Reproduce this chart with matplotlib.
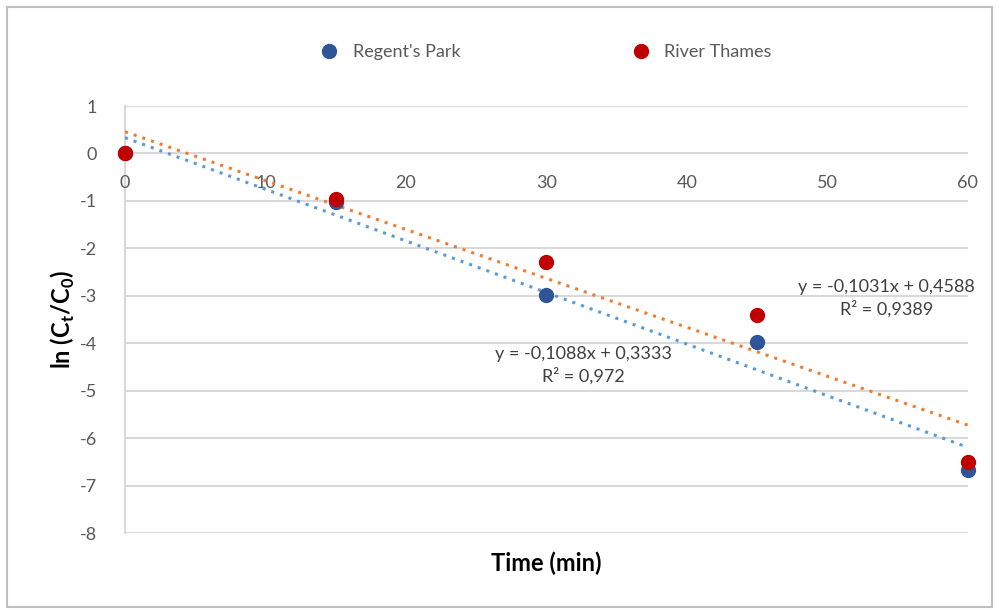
import matplotlib
matplotlib.use("Agg")
import matplotlib.pyplot as plt
import numpy as np
from matplotlib.lines import Line2D
from matplotlib.patches import Rectangle

plt.rcParams['font.family'] = ['Lato', 'DejaVu Sans']

time_min = [0, 15, 30, 45, 60]
regents_park = [0.0, -1.02, -2.98, -3.98, -6.68]
river_thames = [0.0, -0.95, -2.29, -3.41, -6.50]

# trendline coefficients as printed on the chart
rp_slope, rp_intercept = -0.1088, 0.3333
rt_slope, rt_intercept = -0.1031, 0.4588
rp_eq = "y = -0,1088x + 0,3333\nR² = 0,972"
rt_eq = "y = -0,1031x + 0,4588\nR² = 0,9389"

x_ticks = [0, 10, 20, 30, 40, 50, 60]
y_ticks = [1, 0, -1, -2, -3, -4, -5, -6, -7, -8]

blue_marker = "#2F5597"
red_marker = "#C00000"
blue_line = "#5B9BD5"
orange_line = "#ED7D31"
grid_c = "#D9D9D9"
text_c = "#595959"

fig = plt.figure(figsize=(9.99, 6.10), dpi=100)
fig.patches.append(Rectangle((0.007, 0.005), 0.986, 0.984, transform=fig.transFigure,
                             fill=False, edgecolor="#BFBFBF", linewidth=1.5))
ax = fig.add_axes([0.1251, 0.1262, 0.8438, 0.7], facecolor="white")

ax.set_xlim(0, 60)
ax.set_ylim(-8, 1)
ax.set_yticks(y_ticks)
ax.set_xticks(x_ticks)
ax.grid(axis="y", color=grid_c, linewidth=1.5)
ax.set_axisbelow(True)
for s in ["top", "right", "bottom"]:
    ax.spines[s].set_visible(False)
ax.spines["left"].set_color(grid_c)
ax.spines["left"].set_linewidth(1.5)
ax.tick_params(axis="both", length=0, labelsize=13, labelcolor=text_c)
ax.tick_params(axis="y", pad=20)
ax.set_yticklabels([str(v) for v in y_ticks])
# x tick labels positioned just below the y=0 line
ax.set_xticklabels([])
for xv in x_ticks:
    ax.text(xv, -0.63, str(xv), ha="center", va="center", fontsize=13, color=text_c)

# trendlines
xx = np.array([time_min[0], time_min[-1]])
ax.plot(xx, rp_slope * xx + rp_intercept, color=blue_line, linestyle=(0, (1, 2)), linewidth=2.2, zorder=3)
ax.plot(xx, rt_slope * xx + rt_intercept, color=orange_line, linestyle=(0, (1, 2)), linewidth=2.2, zorder=3)

ax.scatter(time_min, regents_park, s=100, color=blue_marker, zorder=4, clip_on=False)
ax.scatter(time_min, river_thames, s=100, color=red_marker, zorder=5, clip_on=False)

ax.text(32.6, -4.46, rp_eq, ha="center", va="center", fontsize=13, color="#404040", linespacing=1.35, zorder=6)
ax.text(54.2, -3.05, rt_eq, ha="center", va="center", fontsize=13, color="#404040", linespacing=1.35, zorder=6)

ax.set_xlabel("Time (min)", fontsize=17, fontweight="bold", color="black", labelpad=10)
ax.set_ylabel(r"ln (C$_\mathregular{t}$/C$_\mathregular{0}$)", fontsize=17, fontweight="bold", color="black", labelpad=2)

handles = [Line2D([], [], marker="o", linestyle="none", color=blue_marker, markersize=10),
           Line2D([], [], marker="o", linestyle="none", color=red_marker, markersize=10)]
fig.legend(handles, ["Regent's Park", "River Thames"], loc="center", bbox_to_anchor=(0.542, 0.915),
           ncol=2, frameon=False, fontsize=13, labelcolor=text_c, columnspacing=9, handletextpad=0.3)

fig.savefig("out.png", dpi=100, facecolor="white")
